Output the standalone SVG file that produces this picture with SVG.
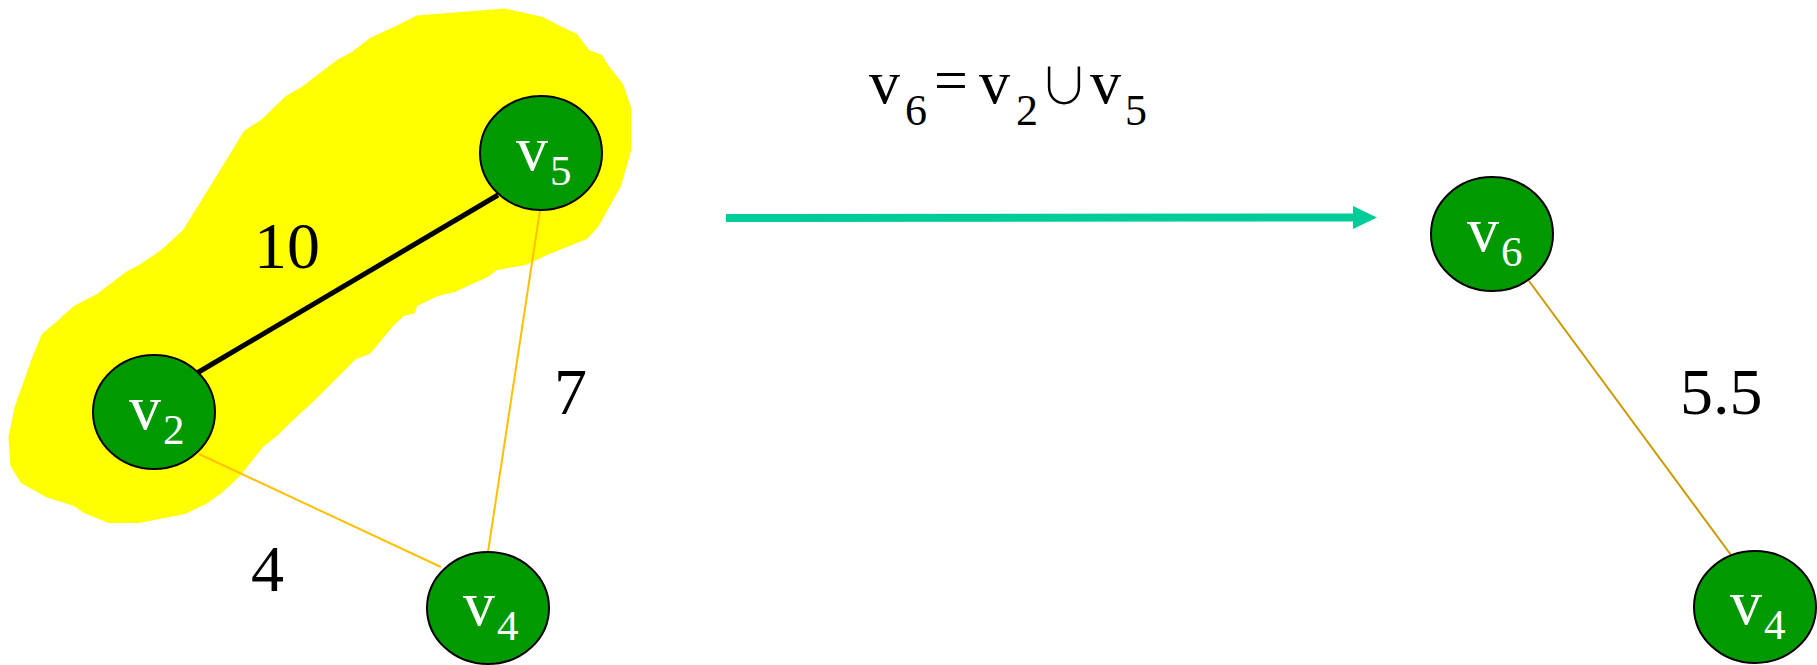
<svg xmlns="http://www.w3.org/2000/svg" width="1817" height="665" viewBox="0 0 1817 665">
<style>
.node ellipse{fill:#009900;stroke:#000;stroke-width:2}
.nl{font-family:"Liberation Serif","Times New Roman",serif;fill:#fff}
.v{font-size:64px}
.sub{font-size:43px}
.el{font-family:"Liberation Serif","Times New Roman",serif;font-size:66px;fill:#000}
.f{font-family:"Liberation Serif","Times New Roman",serif;fill:#000}
.fv{font-size:62px}
.fs{font-size:44px}
.cup{font-family:"Noto Sans CJK JP",sans-serif;font-size:50px;font-weight:300}
</style>
<defs>
<marker id="ah" markerWidth="24" markerHeight="23" refX="0" refY="11.5" markerUnits="userSpaceOnUse" orient="auto">
<path d="M0,0 L24,11.5 L0,23 Z" fill="#00CC99"/>
</marker>
</defs>
<path id="blob" fill="#FFFF00" d="M417,15.5 L505,8.6 L543,17 L560,26 L577,34 L589,50 L602,55 L608,65 L623,84 L631,107 L631,151 L621,186 L598,227 L587,239 L547,255 L526,265 L497,270 L488,277 L472,284 L455,292 L438,296 L417,306 L415,313 L404,316 L394,325 L370,354 L356,359 L345,370 L337,378 L316,399 L290,423 L278,435 L263,447 L240,476 L223,492 L206,504 L185,514 L139,523 L109,523 L84,513 L74,506 L46,497 L21,483 L10.5,466 L8.4,437 L15,406 L25,378 L32,358 L42,334 L55,323 L74,306 L97,294 L126,272 L139,265 L160,251 L183,230 L198,206 L219,172 L244,131 L261,120 L286,96 L303,86 L337,60 L352,52 L370,38 L396,26 Z"/>
<g id="connectors">
<line x1="197" y1="373" x2="498" y2="195" stroke="#000" stroke-width="5"/>
<line x1="540" y1="210" x2="488" y2="552" stroke="#FFC000" stroke-width="2"/>
<line x1="199" y1="454" x2="441" y2="567" stroke="#FFC000" stroke-width="2"/>
<line x1="1529" y1="281" x2="1731" y2="555" stroke="#CC9900" stroke-width="2"/>
<line x1="726" y1="218" x2="1353" y2="217.5" stroke="#00CC99" stroke-width="8" marker-end="url(#ah)"/>
</g>
<g id="edge-labels">
<text class="el" x="254" y="268">10</text>
<text class="el" x="554" y="414">7</text>
<text class="el" x="251" y="591">4</text>
<text class="el" x="1680" y="414">5.5</text>
</g>
<g id="formula">
<text class="f"><tspan class="fv" x="869" y="103">v</tspan><tspan class="fs" x="905" y="125">6</tspan><tspan font-size="60" x="934" y="100">=</tspan><tspan class="fv" x="979" y="103">v</tspan><tspan class="fs" x="1016" y="125">2</tspan><tspan class="cup" x="1039" y="104">∪</tspan><tspan class="fv" x="1090" y="103">v</tspan><tspan class="fs" x="1125" y="125">5</tspan></text>
</g>
<g id="v5" class="node">
<ellipse cx="541" cy="153" rx="61" ry="57"/>
<text class="nl v" x="516" y="170">v</text><text class="nl sub" x="550" y="185">5</text>
</g>
<g id="v2" class="node">
<ellipse cx="154" cy="412" rx="61" ry="57"/>
<text class="nl v" x="129" y="429">v</text><text class="nl sub" x="163" y="444">2</text>
</g>
<g id="v4a" class="node">
<ellipse cx="488" cy="608" rx="61" ry="56"/>
<text class="nl v" x="463" y="625">v</text><text class="nl sub" x="497" y="640">4</text>
</g>
<g id="v6" class="node">
<ellipse cx="1492" cy="234" rx="61" ry="57"/>
<text class="nl v" x="1467" y="251">v</text><text class="nl sub" x="1501" y="266">6</text>
</g>
<g id="v4b" class="node">
<ellipse cx="1755" cy="607" rx="61" ry="56"/>
<text class="nl v" x="1730" y="624">v</text><text class="nl sub" x="1764" y="639">4</text>
</g>
</svg>
